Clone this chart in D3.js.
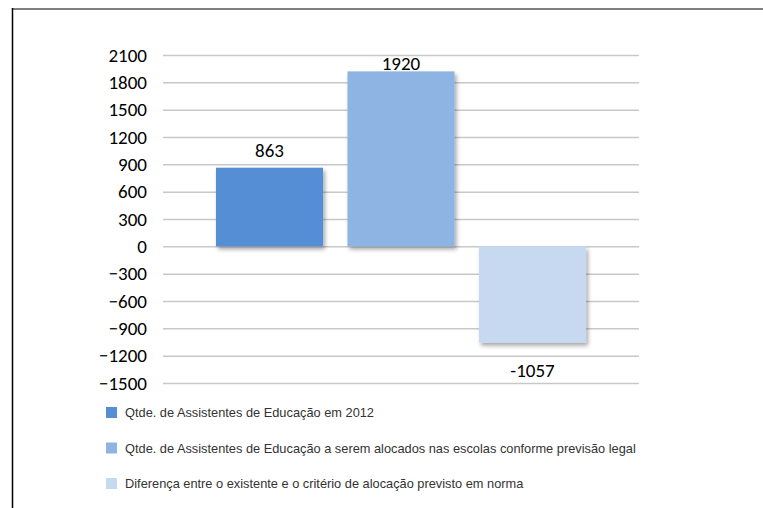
<!DOCTYPE html>
<html><head><meta charset="utf-8">
<script src="https://cdn.jsdelivr.net/npm/d3@7"></script>
<style>
html,body{margin:0;padding:0;background:#fff;}
svg{display:block;}
</style></head>
<body>
<script>
const categories = ["Qtde. de Assistentes de Educação em 2012",
  "Qtde. de Assistentes de Educação a serem alocados nas escolas conforme previsão legal",
  "Diferença entre o existente e o critério de alocação previsto em norma"];
const values = [863, 1920, -1057];
const colors = ["#558ED5", "#8EB4E3", "#C6D9F1"];
const tickValues = [2100,1800,1500,1200,900,600,300,0,-300,-600,-900,-1200,-1500];

const W = 763, H = 508;
const svg = d3.select("body").append("svg").attr("width", W).attr("height", H);

const defs = svg.append("defs");
const f = defs.append("filter").attr("id","sh").attr("x","-10%").attr("y","-10%").attr("width","130%").attr("height","130%");
f.append("feGaussianBlur").attr("in","SourceAlpha").attr("stdDeviation",2).attr("result","b");
f.append("feOffset").attr("in","b").attr("dx",2).attr("dy",3).attr("result","o");
f.append("feComponentTransfer").attr("in","o").attr("result","o2")
  .append("feFuncA").attr("type","linear").attr("slope",0.35);
const m = f.append("feMerge");
m.append("feMergeNode").attr("in","o2");
m.append("feMergeNode").attr("in","SourceGraphic");

// frame
svg.append("line").attr("x1",12).attr("x2",W).attr("y1",9).attr("y2",9)
  .attr("stroke","#808080").attr("stroke-width",2);
svg.append("line").attr("x1",12.5).attr("x2",12.5).attr("y1",8).attr("y2",H)
  .attr("stroke","#000").attr("stroke-width",1.5);

const left = 163, right = 639;
const y = d3.scaleLinear().domain([-1500, 2100]).range([383, 55]);
const x = d3.scaleBand().domain(categories).range([left, right]).paddingInner(0.186).paddingOuter(0.403);

const numFont = "Carlito, Calibri, 'Open Sans', sans-serif";

// grid
const yAxis = d3.axisLeft(y).tickValues(tickValues).tickSize(-(right-left)).tickPadding(16).tickFormat(d3.format("d"));
const g = svg.append("g").attr("transform",`translate(${left},0)`).call(yAxis);
g.select(".domain").remove();
g.selectAll(".tick line").attr("stroke","#C8C8C8").attr("stroke-width",1.5);
g.selectAll(".tick text").attr("fill","#000").style("font-family",numFont).style("font-size","19px");

// bars
svg.append("g").selectAll("rect").data(values).join("rect")
  .attr("x",(d,i)=>x(categories[i]))
  .attr("width",x.bandwidth())
  .attr("y",d=>y(Math.max(0,d)))
  .attr("height",d=>Math.abs(y(d)-y(0)))
  .attr("fill",(d,i)=>colors[i])
  .attr("filter","url(#sh)");

// labels
svg.append("g").selectAll("text").data(values).join("text")
  .attr("x",(d,i)=>x(categories[i])+x.bandwidth()/2)
  .attr("y",d=> d>=0 ? Math.max(y(d)-11, y(2100)+15) : y(d)+34)
  .attr("text-anchor","middle")
  .style("font-family",numFont).style("font-size","19px")
  .attr("fill","#000")
  .text(d=>d);

// legend
const leg = svg.append("g").selectAll("g").data(categories).join("g")
  .attr("transform",(d,i)=>`translate(106,${413 + i*35.5})`);
leg.append("rect").attr("x",0).attr("y",-6).attr("width",11).attr("height",11).attr("fill",(d,i)=>colors[i]);
leg.append("text").attr("x",19).attr("y",0).attr("dy","0.35em")
  .style("font-family","'Liberation Sans Narrow', 'Liberation Sans', sans-serif")
  .style("font-size","12.8px").attr("fill","#333")
  .text(d=>d);
</script>
</body></html>
